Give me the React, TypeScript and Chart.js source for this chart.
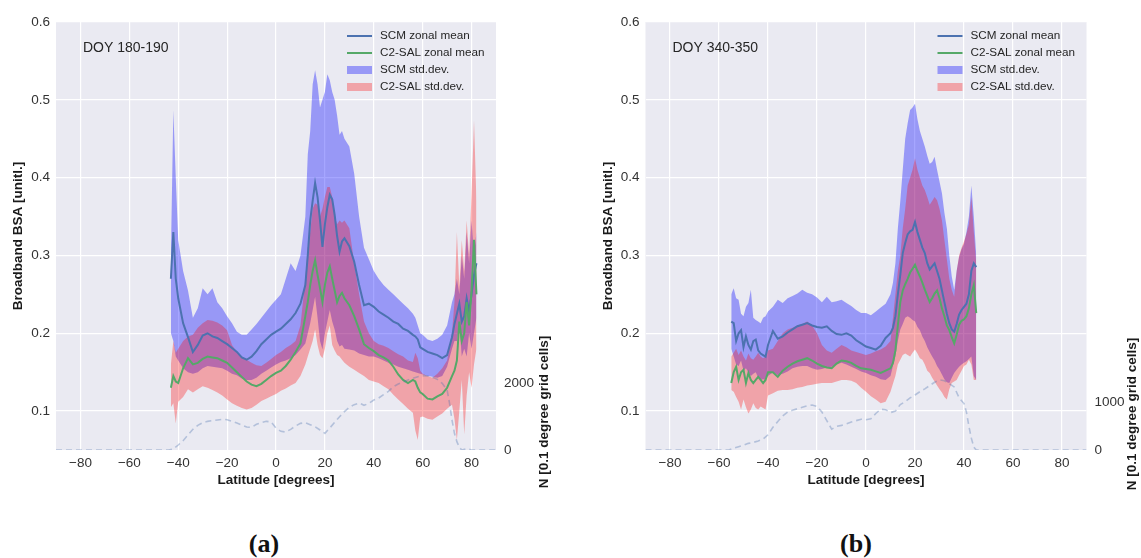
import React, { useEffect, useRef } from "react";
import { Chart, registerables } from "chart.js";

Chart.register(...registerables);

// ---------------- Panel (a): DOY 180-190 ----------------
const A_LAT = [-43, -42, -41, -40, -38, -36, -34, -32, -30, -28, -26, -24, -22, -20, -18, -16, -14, -12, -10, -8, -6, -4, -2, 0, 2, 4, 6, 8, 10, 12, 13, 14, 15, 16, 17, 18, 19, 20, 21, 22, 23, 24, 25, 26, 27, 28, 30, 32, 34, 36, 38, 40, 42, 44, 46, 48, 50, 52, 54, 56, 57, 58, 59, 60, 62, 64, 66, 68, 70, 72, 73, 74, 75, 76, 77, 78, 79, 80, 81, 82];
const A_SCM_MEAN = [0.27, 0.33, 0.27, 0.245, 0.213, 0.195, 0.176, 0.185, 0.197, 0.2, 0.196, 0.194, 0.19, 0.186, 0.181, 0.176, 0.169, 0.166, 0.17, 0.177, 0.186, 0.192, 0.198, 0.202, 0.206, 0.212, 0.218, 0.226, 0.238, 0.262, 0.3, 0.345, 0.37, 0.393, 0.375, 0.345, 0.311, 0.34, 0.362, 0.378, 0.372, 0.352, 0.325, 0.305, 0.318, 0.322, 0.312, 0.292, 0.262, 0.236, 0.238, 0.234, 0.228, 0.224, 0.22, 0.215, 0.212, 0.206, 0.203, 0.198, 0.196, 0.192, 0.182, 0.18, 0.176, 0.174, 0.172, 0.168, 0.172, 0.195, 0.212, 0.225, 0.238, 0.215, 0.222, 0.245, 0.228, 0.25, 0.275, 0.29];
const A_C2_MEAN = [0.13, 0.145, 0.138, 0.136, 0.155, 0.168, 0.16, 0.162, 0.167, 0.17, 0.169, 0.168, 0.165, 0.162, 0.156, 0.15, 0.144, 0.138, 0.134, 0.132, 0.135, 0.14, 0.145, 0.149, 0.152, 0.158, 0.166, 0.176, 0.187, 0.222, 0.24, 0.262, 0.28, 0.294, 0.275, 0.258, 0.24, 0.262, 0.278, 0.286, 0.27, 0.255, 0.24, 0.248, 0.252, 0.245, 0.236, 0.222, 0.205, 0.186, 0.181, 0.177, 0.172, 0.169, 0.165, 0.157, 0.147, 0.14, 0.136, 0.14, 0.138, 0.13, 0.124, 0.122, 0.116, 0.115, 0.119, 0.122, 0.13, 0.145, 0.152, 0.165, 0.215, 0.19, 0.2, 0.24, 0.21, 0.255, 0.32, 0.25];
const A_SCM_HI = [0.3, 0.487, 0.4, 0.32, 0.28, 0.255, 0.22, 0.232, 0.258, 0.25, 0.258, 0.24, 0.232, 0.222, 0.213, 0.202, 0.198, 0.198, 0.205, 0.212, 0.22, 0.228, 0.236, 0.243, 0.25, 0.27, 0.29, 0.28, 0.3, 0.35, 0.43, 0.46, 0.52, 0.538, 0.52, 0.49, 0.5, 0.51, 0.533, 0.525, 0.51, 0.5, 0.48, 0.455, 0.46, 0.45, 0.44, 0.405, 0.35, 0.31, 0.295, 0.28, 0.27, 0.262, 0.256, 0.25, 0.244, 0.238, 0.232, 0.225, 0.22, 0.21, 0.2, 0.198, 0.192, 0.19, 0.193, 0.198, 0.21, 0.24, 0.25, 0.27, 0.25, 0.3, 0.27, 0.33, 0.29, 0.345, 0.3, 0.33];
const A_SCM_LO = [0.2, 0.19, 0.17, 0.165, 0.155, 0.15, 0.148, 0.15, 0.155, 0.158, 0.157, 0.156, 0.155, 0.152, 0.148, 0.146, 0.142, 0.14, 0.14, 0.143, 0.148, 0.152, 0.156, 0.16, 0.163, 0.165, 0.168, 0.172, 0.179, 0.187, 0.2, 0.213, 0.23, 0.247, 0.22, 0.19, 0.179, 0.2, 0.215, 0.23, 0.215, 0.205, 0.19, 0.183, 0.185, 0.18, 0.179, 0.178, 0.174, 0.172, 0.17, 0.17, 0.168, 0.165, 0.162, 0.16, 0.157, 0.155, 0.153, 0.151, 0.15, 0.149, 0.148, 0.147, 0.145, 0.144, 0.143, 0.145, 0.157, 0.18, 0.19, 0.19, 0.21, 0.17, 0.18, 0.17, 0.2, 0.18, 0.2, 0.22];
const A_C2_HI = [0.16, 0.19, 0.175, 0.18, 0.19, 0.196, 0.198, 0.207, 0.213, 0.217, 0.216, 0.214, 0.21, 0.204, 0.185, 0.176, 0.17, 0.166, 0.162, 0.159, 0.158, 0.162, 0.167, 0.172, 0.176, 0.181, 0.185, 0.19, 0.21, 0.27, 0.31, 0.33, 0.36, 0.367, 0.365, 0.35, 0.36, 0.375, 0.388, 0.388, 0.375, 0.35, 0.34, 0.345, 0.342, 0.345, 0.335, 0.29, 0.25, 0.215, 0.2, 0.19, 0.186, 0.184, 0.181, 0.177, 0.173, 0.17, 0.165, 0.163, 0.175, 0.168, 0.152, 0.148, 0.145, 0.143, 0.148, 0.155, 0.165, 0.2, 0.24, 0.33, 0.26, 0.32, 0.28, 0.345, 0.3, 0.38, 0.474, 0.37];
const A_C2_LO = [0.105, 0.11, 0.084, 0.112, 0.118, 0.128, 0.124, 0.128, 0.132, 0.13, 0.127, 0.124, 0.12, 0.115, 0.11, 0.107, 0.104, 0.102, 0.104, 0.108, 0.113, 0.116, 0.119, 0.122, 0.126, 0.129, 0.133, 0.136, 0.145, 0.16, 0.17, 0.18, 0.19, 0.205, 0.185, 0.172, 0.168, 0.18, 0.2, 0.21, 0.185, 0.178, 0.172, 0.17, 0.166, 0.162, 0.157, 0.153, 0.149, 0.145, 0.14, 0.138, 0.136, 0.132, 0.128, 0.121, 0.115, 0.109, 0.103, 0.098, 0.075, 0.063, 0.092, 0.093, 0.09, 0.089, 0.093, 0.097, 0.103, 0.108, 0.09, 0.063, 0.1, 0.14, 0.07, 0.12, 0.15, 0.13, 0.16, 0.18];
const A_N_LAT = [-90, -44, -42, -40, -38, -36, -34, -32, -30, -28, -26, -24, -22, -20, -18, -16, -14, -12, -10, -8, -6, -4, -2, 0, 2, 4, 6, 8, 10, 12, 14, 16, 18, 20, 22, 24, 26, 28, 30, 32, 34, 36, 38, 40, 42, 44, 46, 48, 50, 52, 54, 56, 58, 60, 62, 64, 66, 68, 70, 71, 72, 73, 74, 75, 76, 78, 80, 90];
const A_N = [0, 0, 30, 150, 280, 450, 620, 740, 820, 860, 880, 900, 920, 910, 860, 810, 750, 690, 680, 770, 820, 860, 840, 660, 560, 540, 620, 720, 800, 820, 760, 700, 600, 500, 660, 830, 1000, 1150, 1280, 1360, 1410, 1340, 1400, 1500, 1560, 1660, 1760, 1900, 1980, 2040, 2100, 2150, 2200, 2230, 2220, 2180, 2120, 2000, 1800, 1400, 900, 500, 250, 80, 0, 40, 0, 0];
const A_N_TICKS = [0, 2000];

// ---------------- Panel (b): DOY 340-350 ----------------
const B_LAT = [-55, -54, -53, -52, -51, -50, -49, -48, -47, -46, -45, -44, -43, -42, -41, -40, -38, -36, -34, -32, -30, -28, -26, -24, -22, -20, -18, -16, -14, -12, -10, -8, -6, -4, -2, 0, 2, 4, 6, 8, 10, 11, 12, 13, 14, 15, 16, 17, 18, 19, 20, 21, 22, 23, 24, 25, 26, 27, 28, 29, 30, 31, 32, 33, 34, 35, 36, 37, 38, 39, 40, 41, 42, 43, 44, 45];
const B_SCM_MEAN = [0.215, 0.213, 0.19, 0.2, 0.204, 0.182, 0.196, 0.185, 0.179, 0.19, 0.192, 0.178, 0.174, 0.172, 0.17, 0.185, 0.203, 0.193, 0.196, 0.201, 0.205, 0.209, 0.211, 0.213, 0.21, 0.208, 0.207, 0.209, 0.203, 0.199, 0.198, 0.2, 0.197, 0.191, 0.187, 0.183, 0.181, 0.179, 0.184, 0.194, 0.2, 0.207, 0.222, 0.25, 0.275, 0.303, 0.316, 0.327, 0.331, 0.333, 0.343, 0.33, 0.32, 0.31, 0.303, 0.29, 0.282, 0.286, 0.29, 0.28, 0.27, 0.255, 0.24, 0.225, 0.213, 0.205, 0.202, 0.212, 0.224, 0.23, 0.234, 0.238, 0.25, 0.28, 0.29, 0.285];
const B_C2_MEAN = [0.136, 0.15, 0.157, 0.14, 0.15, 0.153, 0.136, 0.149, 0.14, 0.136, 0.14, 0.144, 0.14, 0.136, 0.14, 0.15, 0.15, 0.144, 0.152, 0.157, 0.161, 0.164, 0.166, 0.168, 0.165, 0.161, 0.158, 0.156, 0.155, 0.161, 0.165, 0.164, 0.162, 0.158, 0.155, 0.154, 0.153, 0.151, 0.149, 0.152, 0.155, 0.162, 0.178, 0.21, 0.24, 0.255, 0.263, 0.27, 0.278, 0.283, 0.288, 0.28, 0.273, 0.265, 0.256, 0.248, 0.24, 0.245, 0.251, 0.255, 0.245, 0.232, 0.222, 0.21, 0.204, 0.195, 0.187, 0.198, 0.211, 0.216, 0.218, 0.222, 0.232, 0.25, 0.262, 0.226];
const B_SCM_HI = [0.25, 0.258, 0.245, 0.243, 0.225, 0.222, 0.234, 0.239, 0.256, 0.22, 0.217, 0.215, 0.213, 0.22, 0.222, 0.228, 0.234, 0.243, 0.239, 0.245, 0.248, 0.251, 0.256, 0.252, 0.25, 0.246, 0.24, 0.247, 0.24, 0.241, 0.243, 0.239, 0.235, 0.23, 0.226, 0.226, 0.223, 0.228, 0.233, 0.238, 0.25, 0.265, 0.29, 0.335, 0.37, 0.41, 0.45, 0.47, 0.487, 0.49, 0.495, 0.475, 0.46, 0.45, 0.44, 0.428, 0.418, 0.42, 0.427, 0.41, 0.395, 0.38, 0.355, 0.335, 0.3, 0.273, 0.256, 0.28, 0.298, 0.308, 0.315, 0.33, 0.35, 0.39, 0.35, 0.3];
const B_SCM_LO = [0.18, 0.17, 0.16, 0.158, 0.165, 0.152, 0.155, 0.15, 0.145, 0.148, 0.15, 0.143, 0.14, 0.141, 0.14, 0.145, 0.15, 0.146, 0.148, 0.151, 0.155, 0.157, 0.158, 0.158, 0.155, 0.153, 0.154, 0.156, 0.157, 0.16, 0.162, 0.16, 0.157, 0.154, 0.151, 0.149, 0.146, 0.144, 0.141, 0.14, 0.145, 0.158, 0.17, 0.19, 0.205, 0.212, 0.22, 0.222, 0.22, 0.217, 0.215, 0.208, 0.204, 0.196, 0.19, 0.182, 0.176, 0.17, 0.165, 0.158, 0.153, 0.147, 0.141, 0.137, 0.136, 0.143, 0.149, 0.153, 0.157, 0.16, 0.162, 0.164, 0.167, 0.17, 0.145, 0.14];
const B_C2_HI = [0.17, 0.175, 0.18, 0.172, 0.178, 0.17, 0.165, 0.174, 0.168, 0.166, 0.17, 0.175, 0.17, 0.168, 0.17, 0.178, 0.18, 0.19, 0.2, 0.205, 0.207, 0.21, 0.212, 0.215, 0.21, 0.2, 0.185, 0.178, 0.175, 0.18, 0.185, 0.182, 0.178, 0.176, 0.174, 0.172, 0.174, 0.177, 0.179, 0.183, 0.19, 0.22, 0.25, 0.28, 0.3, 0.335, 0.36, 0.39, 0.4, 0.41, 0.425, 0.41, 0.4, 0.39, 0.384, 0.375, 0.365, 0.37, 0.375, 0.371, 0.36, 0.345, 0.32, 0.295, 0.27, 0.256, 0.247, 0.28, 0.3, 0.31, 0.318, 0.328, 0.34, 0.375, 0.33, 0.29];
const B_C2_LO = [0.127, 0.125, 0.118, 0.112, 0.102, 0.115, 0.105, 0.097, 0.102, 0.11, 0.104, 0.102, 0.106, 0.104, 0.102, 0.12, 0.123, 0.126, 0.127, 0.127, 0.128, 0.13, 0.131, 0.133, 0.134, 0.135, 0.136, 0.136, 0.136, 0.138, 0.14, 0.14, 0.139, 0.136, 0.13, 0.125, 0.119, 0.115, 0.11, 0.112, 0.125, 0.135, 0.145, 0.16, 0.166, 0.172, 0.174, 0.172, 0.17, 0.175, 0.179, 0.174, 0.168, 0.166, 0.16, 0.152, 0.149, 0.143, 0.138, 0.133, 0.128, 0.124, 0.118, 0.115, 0.128, 0.136, 0.138, 0.14, 0.146, 0.152, 0.158, 0.16, 0.166, 0.16, 0.14, 0.14];
const B_N_LAT = [-90, -56, -54, -52, -50, -48, -46, -44, -42, -40, -38, -36, -34, -32, -30, -28, -26, -24, -22, -20, -18, -16, -14, -12, -10, -8, -6, -4, -2, 0, 2, 4, 6, 8, 10, 12, 14, 16, 18, 20, 22, 24, 26, 28, 30, 32, 34, 36, 38, 40, 41, 42, 43, 44, 45, 90];
const B_N = [0, 0, 40, 70, 100, 140, 160, 190, 230, 320, 480, 600, 720, 800, 840, 870, 900, 930, 950, 920, 800, 620, 440, 500, 520, 550, 590, 620, 650, 640, 660, 770, 860, 850, 790, 820, 960, 1020, 1100, 1160, 1230, 1290, 1360, 1430, 1480, 1460, 1400, 1330, 1100, 980, 800, 500, 250, 60, 0, 0];
const B_N_TICKS = [0, 1000];

// ---------------- shared axis ticks / labels ----------------
const X_TICKS = [-80, -60, -40, -20, 0, 20, 40, 60, 80];
const Y_TICKS = [0.1, 0.2, 0.3, 0.4, 0.5, 0.6];
const LEGEND_LABELS = ["SCM zonal mean", "C2-SAL zonal mean", "SCM std.dev.", "C2-SAL std.dev."];

const FONT = "'Liberation Sans', Arial, sans-serif";
const C_SCM = "#4C72B0";
const C_C2 = "#55A868";
const F_SCM = "rgba(0,0,255,0.35)";
const F_C2 = "rgba(255,0,0,0.30)";
const C_N = "rgba(76,114,176,0.35)";
const NONE = "rgba(0,0,0,0)";

type Cfg = {
  left: number;
  width: number;
  leftW: number;
  rightW: number;
  leftTitleX: number;
  rightTitleX: number;
  rightTitleY: number;
  doy: string;
  y2max: number;
  y2ticks: number[];
  lat: number[];
  scmMean: number[];
  c2Mean: number[];
  scmHi: number[];
  scmLo: number[];
  c2Hi: number[];
  c2Lo: number[];
  nLat: number[];
  n: number[];
};

const PANEL_A: Cfg = {
  left: 0, width: 570, leftW: 56, rightW: 74, leftTitleX: 18.5, rightTitleX: 544, rightTitleY: 412,
  doy: "DOY 180-190", y2max: 12840, y2ticks: A_N_TICKS,
  lat: A_LAT, scmMean: A_SCM_MEAN, c2Mean: A_C2_MEAN, scmHi: A_SCM_HI, scmLo: A_SCM_LO,
  c2Hi: A_C2_HI, c2Lo: A_C2_LO, nLat: A_N_LAT, n: A_N,
};
const PANEL_B: Cfg = {
  left: 570, width: 571, leftW: 75.5, rightW: 54.5, leftTitleX: 38.5, rightTitleX: 562, rightTitleY: 414,
  doy: "DOY 340-350", y2max: 9030, y2ticks: B_N_TICKS,
  lat: B_LAT, scmMean: B_SCM_MEAN, c2Mean: B_C2_MEAN, scmHi: B_SCM_HI, scmLo: B_SCM_LO,
  c2Hi: B_C2_HI, c2Lo: B_C2_LO, nLat: B_N_LAT, n: B_N,
};

const H = 500;

function pts(xs: number[], ys: number[]) {
  return xs.map((x, i) => ({ x, y: ys[i] }));
}

function Panel({ cfg }: { cfg: Cfg }) {
  const ref = useRef<HTMLCanvasElement>(null);
  useEffect(() => {
    const canvas = ref.current;
    if (!canvas) return;

    const bgPlugin = {
      id: "plotBg",
      beforeDraw(chart: any) {
        const { ctx, chartArea: a } = chart;
        ctx.save();
        ctx.fillStyle = "#EAEAF2";
        ctx.fillRect(a.left, a.top, a.right - a.left, a.bottom - a.top);
        ctx.restore();
      },
    };

    const textPlugin = {
      id: "texts",
      afterDraw(chart: any) {
        const { ctx, chartArea: a } = chart;
        ctx.save();
        ctx.fillStyle = "#262626";
        ctx.textBaseline = "middle";
        // DOY annotation
        ctx.font = `14px ${FONT}`;
        ctx.textAlign = "left";
        ctx.fillText(cfg.doy, a.left + 27, 48);
        // legend
        const lx = a.right - 149;
        const rows = [36, 53, 70, 87];
        ctx.lineWidth = 2;
        ctx.strokeStyle = C_SCM;
        ctx.beginPath(); ctx.moveTo(lx, rows[0]); ctx.lineTo(lx + 25, rows[0]); ctx.stroke();
        ctx.strokeStyle = C_C2;
        ctx.beginPath(); ctx.moveTo(lx, rows[1]); ctx.lineTo(lx + 25, rows[1]); ctx.stroke();
        ctx.fillStyle = F_SCM;
        ctx.fillRect(lx, rows[2] - 4, 25, 8);
        ctx.fillStyle = F_C2;
        ctx.fillRect(lx, rows[3] - 4, 25, 8);
        ctx.fillStyle = "#262626";
        ctx.font = `11.7px ${FONT}`;
        LEGEND_LABELS.forEach((t, i) => ctx.fillText(t, lx + 33, rows[i]));
        // axis titles
        ctx.font = `bold 13.5px ${FONT}`;
        ctx.textAlign = "center";
        ctx.fillStyle = "#1a1a1a";
        ctx.fillText("Latitude [degrees]", (a.left + a.right) / 2, 480);
        ctx.save();
        ctx.translate(cfg.leftTitleX, (a.top + a.bottom) / 2);
        ctx.rotate(-Math.PI / 2);
        ctx.fillText("Broadband BSA [unitl.]", 0, 0);
        ctx.restore();
        ctx.save();
        ctx.translate(cfg.rightTitleX, cfg.rightTitleY);
        ctx.rotate(-Math.PI / 2);
        ctx.fillText("N [0.1 degree grid cells]", 0, 0);
        ctx.restore();
        ctx.restore();
      },
    };

    const chart = new Chart(canvas, {
      type: "line",
      data: {
        datasets: [
          { label: "SCM lo", data: pts(cfg.lat, cfg.scmLo), borderColor: NONE, backgroundColor: NONE, borderWidth: 0, pointRadius: 0, fill: false, order: 10 },
          { label: "SCM std.dev.", data: pts(cfg.lat, cfg.scmHi), borderColor: NONE, backgroundColor: F_SCM, borderWidth: 0, pointRadius: 0, fill: "-1", order: 9 },
          { label: "C2 lo", data: pts(cfg.lat, cfg.c2Lo), borderColor: NONE, backgroundColor: NONE, borderWidth: 0, pointRadius: 0, fill: false, order: 8 },
          { label: "C2-SAL std.dev.", data: pts(cfg.lat, cfg.c2Hi), borderColor: NONE, backgroundColor: F_C2, borderWidth: 0, pointRadius: 0, fill: "-1", order: 7 },
          { label: "SCM zonal mean", data: pts(cfg.lat, cfg.scmMean), borderColor: C_SCM, borderWidth: 2, pointRadius: 0, fill: false, order: 3 },
          { label: "C2-SAL zonal mean", data: pts(cfg.lat, cfg.c2Mean), borderColor: C_C2, borderWidth: 2, pointRadius: 0, fill: false, order: 2 },
          { label: "N", data: pts(cfg.nLat, cfg.n), yAxisID: "y2", borderColor: C_N, borderWidth: 1.6, borderDash: [6, 4], pointRadius: 0, fill: false, order: 1 },
        ] as any,
      },
      options: {
        responsive: false,
        animation: false,
        devicePixelRatio: 1,
        layout: { padding: { top: 22, left: 0, right: 0, bottom: 0 } },
        elements: { line: { tension: 0 } },
        plugins: { legend: { display: false }, tooltip: { enabled: false } },
        scales: {
          x: {
            type: "linear",
            min: -90,
            max: 90,
            afterBuildTicks: (s: any) => { s.ticks = X_TICKS.map((v) => ({ value: v })); },
            afterFit: (s: any) => { s.height = 50; },
            ticks: {
              padding: 5,
              color: "#333",
              font: { family: FONT, size: 13.5 },
              maxRotation: 0,
              autoSkip: false,
              callback: (v: any) => String(v).replace("-", "\u2212"),
            },
            grid: { color: "#ffffff", lineWidth: 1.2, drawTicks: false },
            border: { display: false },
          },
          y: {
            type: "linear",
            position: "left",
            min: 0.05,
            max: 0.6,
            afterBuildTicks: (s: any) => { s.ticks = Y_TICKS.map((v) => ({ value: v })); },
            afterFit: (s: any) => { s.width = cfg.leftW; },
            ticks: {
              padding: 6,
              color: "#333",
              font: { family: FONT, size: 13.5 },
              callback: (v: any) => Number(v).toFixed(1),
            },
            grid: { color: "#ffffff", lineWidth: 1.2, drawTicks: false },
            border: { display: false },
          },
          y2: {
            type: "linear",
            position: "right",
            min: 0,
            max: cfg.y2max,
            afterBuildTicks: (s: any) => { s.ticks = cfg.y2ticks.map((v) => ({ value: v })); },
            afterFit: (s: any) => { s.width = cfg.rightW; },
            ticks: {
              padding: 8,
              color: "#333",
              font: { family: FONT, size: 13.5 },
              callback: (v: any) => String(v),
            },
            grid: { display: false, drawTicks: false },
            border: { display: false },
          },
        },
      } as any,
      plugins: [bgPlugin, textPlugin],
    });
    return () => chart.destroy();
  }, [cfg]);

  return (
    <canvas
      ref={ref}
      width={cfg.width}
      height={H}
      style={{ position: "absolute", left: cfg.left, top: 0, width: cfg.width, height: H }}
    />
  );
}

const CAPTIONS = [
  { text: "(a)", x: 264 },
  { text: "(b)", x: 856 },
];

export default function App() {
  return (
    <div style={{ position: "absolute", left: 0, top: 0, width: 1141, height: 558, background: "#ffffff", overflow: "hidden" }}>
      <Panel cfg={PANEL_A} />
      <Panel cfg={PANEL_B} />
      {CAPTIONS.map((c) => (
        <div
          key={c.text}
          style={{
            position: "absolute",
            left: c.x - 40,
            width: 80,
            top: 529,
            textAlign: "center",
            fontFamily: "'Liberation Serif', 'DejaVu Serif', serif",
            fontWeight: "bold",
            fontSize: 26,
            lineHeight: "30px",
            color: "#111",
          }}
        >
          {c.text}
        </div>
      ))}
    </div>
  );
}
